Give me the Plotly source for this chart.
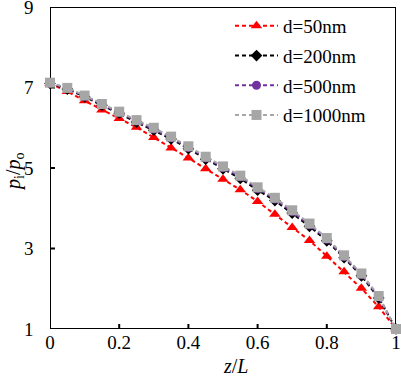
import plotly.graph_objects as go

z = [0.0, 0.05, 0.1, 0.15, 0.2, 0.25, 0.3, 0.35, 0.4, 0.45, 0.5,
     0.55, 0.6, 0.65, 0.7, 0.75, 0.8, 0.85, 0.9, 0.95, 1.0]

p_d50 = [7.10, 6.90, 6.67, 6.44, 6.23, 6.01, 5.76, 5.50, 5.25, 4.98, 4.72,
         4.46, 4.17, 3.85, 3.52, 3.20, 2.81, 2.42, 2.01, 1.55, 1.00]
p_d200 = [7.10, 6.96, 6.77, 6.56, 6.36, 6.14, 5.94, 5.72, 5.48, 5.22, 4.98,
          4.74, 4.45, 4.19, 3.88, 3.55, 3.19, 2.77, 2.32, 1.77, 1.00]
p_d500 = [7.11, 6.98, 6.79, 6.58, 6.38, 6.17, 5.97, 5.75, 5.51, 5.25, 5.01,
          4.78, 4.49, 4.23, 3.92, 3.59, 3.23, 2.80, 2.35, 1.80, 1.00]
p_d1000 = [7.12, 6.99, 6.80, 6.59, 6.40, 6.19, 6.00, 5.78, 5.54, 5.28, 5.04,
           4.81, 4.52, 4.26, 3.95, 3.62, 3.26, 2.83, 2.38, 1.82, 1.00]

names = ["d=50nm", "d=200nm", "d=500nm", "d=1000nm"]
x_ticks = [0, 0.2, 0.4, 0.6, 0.8, 1]
x_ticklabels = ["0", "0.2", "0.4", "0.6", "0.8", "1"]
y_ticks = [1, 3, 5, 7, 9]
y_ticklabels = ["1", "3", "5", "7", "9"]
x_range = [0, 1]
y_range = [1, 9]

series = [p_d50, p_d200, p_d500, p_d1000]
colors = ["#FF0000", "#000000", "#7030A0", "#A6A6A6"]
symbols = ["triangle-up", "diamond", "circle", "square"]
msizes = [10, 9, 9, 10]

FONT = "Liberation Serif"

W, H = 401, 377
ml, mr, mt, mb = 50, 5, 7, 48
plot_w = W - ml - mr
plot_h = H - mt - mb
TICK_PX = 5

# frame + inner tick marks, derived from the axis ranges and tick arrays
tx = (x_range[1] - x_range[0]) * TICK_PX / plot_w
ty = (y_range[1] - y_range[0]) * TICK_PX / plot_h
fx = [x_range[0], x_range[1], x_range[1], x_range[0], x_range[0], None]
fy = [y_range[0], y_range[0], y_range[1], y_range[1], y_range[0], None]
for xv in x_ticks[1:-1]:
    fx += [xv, xv, None]
    fy += [y_range[0], y_range[0] + ty, None]
for yv in y_ticks[1:-1]:
    fx += [x_range[0], x_range[0] + tx, None]
    fy += [yv, yv, None]

fig = go.Figure()
fig.add_trace(go.Scatter(x=fx, y=fy, mode="lines", showlegend=False,
                         hoverinfo="skip", cliponaxis=False,
                         line=dict(color="black", width=2, dash="2000px,1px")))
for i, (name, ys) in enumerate(zip(names, series)):
    fig.add_trace(go.Scatter(
        x=z, y=ys, name=name, mode="lines+markers",
        legendgroup=f"g{i}", cliponaxis=False,
        line=dict(color=colors[i], width=2, dash="4px,3px"),
        marker=dict(symbol=symbols[i], size=msizes[i], color=colors[i]),
    ))

y_label_annots = [
    dict(text=t, xref="paper", yref="y", x=-(ml - 36) / plot_w, y=v,
         xanchor="right", yanchor="middle", showarrow=False,
         font=dict(family=FONT, size=19, color="black"))
    for v, t in zip(y_ticks, y_ticklabels)
]

fig.update_layout(
    template="none",
    width=W, height=H,
    margin=dict(l=ml, r=mr, t=mt, b=mb, pad=0, autoexpand=False),
    paper_bgcolor="white", plot_bgcolor="white",
    font=dict(family=FONT, size=19, color="black"),
    showlegend=True,
    legend=dict(x=(230 - ml) / plot_w, y=1.0, xanchor="left", yanchor="top",
                bgcolor="rgba(0,0,0,0)", tracegroupgap=2, itemwidth=43,
                font=dict(family=FONT, size=19, color="black")),
    xaxis=dict(range=x_range, tickmode="array", tickvals=x_ticks, ticktext=x_ticklabels,
               showgrid=False, zeroline=False, showline=False, ticks="",
               tickfont=dict(family=FONT, size=19, color="black")),
    yaxis=dict(range=y_range, tickmode="array", tickvals=y_ticks,
               showticklabels=False, showgrid=False, zeroline=False,
               showline=False, ticks=""),
    annotations=y_label_annots + [
        dict(text="<i>z</i>/<i>L</i>", xref="paper", yref="paper",
             x=(235 - ml) / plot_w, y=-(366 - (H - mb)) / plot_h,
             xanchor="center", yanchor="middle", showarrow=False,
             font=dict(family=FONT, size=20, color="black")),
        dict(text="<i>p</i><sub>i</sub>/<i>p</i><sub>o</sub>", xref="paper", yref="paper",
             x=-(ml - 14) / plot_w, y=1 - (172 - mt) / plot_h,
             xanchor="center", yanchor="middle", showarrow=False, textangle=-90,
             font=dict(family=FONT, size=20, color="black")),
    ],
)

fig.write_html("out.html", config={"displayModeBar": False},
               post_script="document.body.style.margin='0';")
